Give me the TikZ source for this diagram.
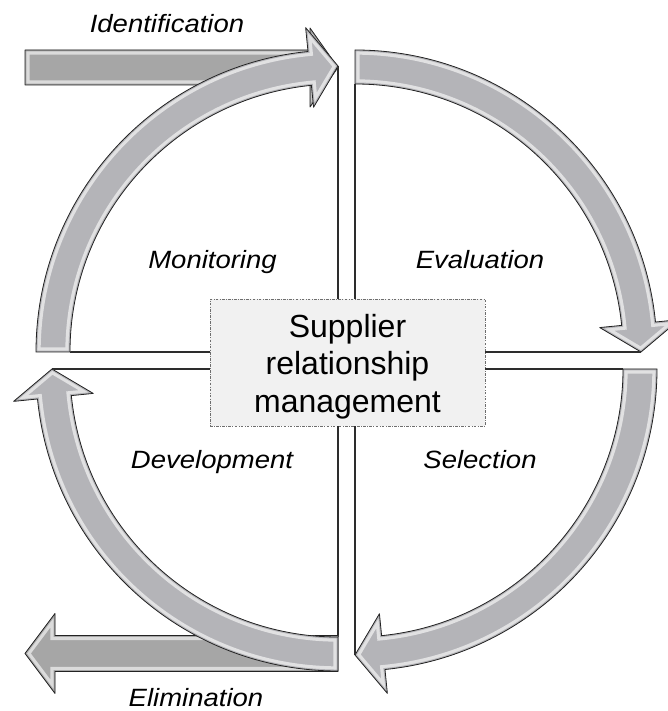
\documentclass[tikz,border=0pt]{standalone}
\usepackage{fontspec}
\setmainfont{Liberation Sans}
\newfontfamily\labfont[FakeStretch=1.1]{Liberation Sans}
\usetikzlibrary{calc}
\definecolor{arrowgray}{RGB}{180,180,184}
\definecolor{bargray}{RGB}{166,166,166}
\definecolor{edgegray}{RGB}{35,35,35}
\definecolor{linegray}{RGB}{45,45,45}
\definecolor{boxfill}{RGB}{241,241,241}
\definecolor{boxedge}{RGB}{110,110,110}
% curved arrow: center, start angle, head-base angle, tip angle
\newcommand{\cvpath}[4]{($(#1)+(#2:302)$) arc[start angle=#2, end angle=#3, radius=302] -- ($(#1)+(#3:326)$) -- ($(#1)+(#4:286)$) -- ($(#1)+(#3:246)$) -- ($(#1)+(#3:268)$) arc[start angle=#3, end angle=#2, radius=268] -- cycle}
\newcommand{\bevelshape}[2]{%
  \fill[#1] #2;
  \begin{scope}\clip #2;
    \draw[white,opacity=.6,line width=7pt] #2;
    \draw[#1,line width=2.2pt] #2;
  \end{scope}
  \draw[edgegray,line width=.6pt,line join=round] #2;}
\tikzset{
  sepline/.style={linegray,line width=.8pt},
  lab/.style={font=\labfont\itshape\fontsize{18.75}{22}\selectfont,inner sep=0pt,anchor=base},
  cbox/.style={fill=boxfill,draw=boxedge,line width=.5pt,dash pattern=on 2pt off 1pt on .6pt off 1pt,minimum width=206.25pt,minimum height=95.25pt,inner sep=0pt},
}
\begin{document}
\begin{tikzpicture}[x=0.75pt,y=0.75pt]
\useasboundingbox (0,0) rectangle (668,711);
\coordinate (tl) at (338,359);
\coordinate (tr) at (355,359);
\coordinate (br) at (355,342);
\coordinate (bl) at (338,342);
\node[cbox] (box) at (347.5,348.5) {};
% separating lines
\draw[sepline] ($(tl)+(90:286)$) -- (tl |- box.north);
\draw[sepline] ($(tl)+(180:268)$) -- (box.west |- tl);
\draw[sepline] ($(tr)+(90:268)$) -- (tr |- box.north);
\draw[sepline] (box.east |- tr) -- ($(tr)+(0:286)$);
\draw[sepline] (box.east |- br) -- ($(br)+(0:268)$);
\draw[sepline] (br |- box.south) -- ($(br)+(-90:286)$);
\draw[sepline] (bl |- box.south) -- ($(bl)+(-90:268)$);
\draw[sepline] ($(bl)+(180:286)$) -- (box.west |- bl);
% straight arrows
\bevelshape{bargray}{(25,626) -- (310,626) -- (310,604) -- (338,643.5) -- (310,683) -- (310,661) -- (25,661) -- cycle}
\bevelshape{bargray}{(338,39.5) -- (55,39.5) -- (55,17.5) -- (25,57.5) -- (55,97.5) -- (55,75.5) -- (338,75.5) -- cycle}
% curved arrows
\bevelshape{arrowgray}{\cvpath{tl}{180}{95.7}{90}}
\bevelshape{arrowgray}{\cvpath{tr}{90}{5.7}{0}}
\bevelshape{arrowgray}{\cvpath{br}{0}{-84.3}{-90}}
\bevelshape{arrowgray}{\cvpath{bl}{270}{185.7}{180}}
% centre text
\node[font=\fontsize{24}{28.1}\selectfont,align=center,inner sep=0pt] (boxtext) at (347.5,344.5) {Supplier\\relationship\\management};
% labels
\node[lab] (ident) at (167,678) {Identification};
\node[lab] (monit) at (212.5,442) {Monitoring};
\node[lab] (evalu) at (480,442) {Evaluation};
\node[lab] (devel) at (212,242) {Development};
\node[lab] (selec) at (480,242) {Selection};
\node[lab] (elimi) at (196,5) {Elimination};
\end{tikzpicture}
\end{document}
